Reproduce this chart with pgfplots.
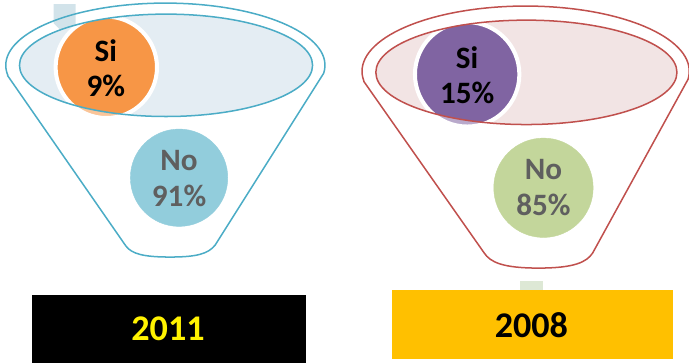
\documentclass[border=0pt]{standalone}
\usepackage{pgfplots}
\pgfplotsset{compat=1.18}
\usepackage{fontspec}
\setmainfont{Carlito}
\definecolor{lstroke}{HTML}{4BACC6}
\definecolor{lfill}{HTML}{E4EDF3}
\definecolor{rstroke}{HTML}{C0504D}
\definecolor{rfill}{HTML}{F2E4E4}
\definecolor{orangeC}{HTML}{F79646}
\definecolor{blueC}{HTML}{92CDDC}
\definecolor{purpleC}{HTML}{8064A2}
\definecolor{greenC}{HTML}{C3D69B}
\definecolor{grayT}{HTML}{5F5F5F}
\definecolor{lrect}{HTML}{D2E3EA}
\definecolor{grect}{HTML}{DDE8D5}
\definecolor{goldC}{HTML}{FFC000}
\pgfplotsset{canvas/.style={
  scale only axis, width=689pt, height=363pt,
  xmin=0, xmax=689, ymin=0, ymax=363, y dir=reverse,
  enlargelimits=false, hide axis, clip=true}}
\begin{document}
\begin{tikzpicture}
% ===== layer 1: backgrounds and circles =====
\begin{axis}[canvas]
\fill[lrect] (axis cs:56,5) -- (axis cs:78,5) -- (axis cs:78,26) -- (axis cs:68,36) -- (axis cs:56,24) -- cycle;
\draw[lstroke, line width=1.5pt, line join=round]
  (axis cs:10,76) -- (axis cs:128,246)
  .. controls (axis cs:134,254) and (axis cs:146,257) .. (axis cs:172,257)
  .. controls (axis cs:198,257) and (axis cs:210,254) .. (axis cs:217,245)
  -- (axis cs:325,74)
  arc[start angle=-7.4, end angle=189.3, x radius=159pt, y radius=62pt];
\fill[lfill] (axis cs:168,66) ellipse[x radius=146pt, y radius=51pt];
\draw[rstroke, line width=1.5pt, line join=round]
  (axis cs:365,82) -- (axis cs:485,253)
  .. controls (axis cs:491,262) and (axis cs:503,268) .. (axis cs:539,268)
  .. controls (axis cs:575,268) and (axis cs:587,262) .. (axis cs:593,253)
  -- (axis cs:688,80)
  arc[start angle=-7.1, end angle=188.8, x radius=163pt, y radius=65pt];
\fill[rfill] (axis cs:527,73) ellipse[x radius=150pt, y radius=52pt];
% Si / No circles
\addplot[white, line width=4pt, only marks, mark=*, mark size=50.5pt, mark options={fill=orangeC}] coordinates {(108.5,68)};
\addplot[blueC, only marks, mark=*, mark size=48.5pt, mark options={fill=blueC}] coordinates {(181,178)};
\addplot[white, line width=4pt, only marks, mark=*, mark size=52pt, mark options={fill=purpleC}] coordinates {(468,75)};
\addplot[greenC, only marks, mark=*, mark size=49.5pt, mark options={fill=greenC}] coordinates {(544,188)};
\end{axis}
% ===== layer 2: overlays, outlines, texts, year boxes =====
\begin{axis}[canvas]
\begin{scope}
\clip (axis cs:108.5,68) circle[radius=53pt];
\fill[white, fill opacity=0.45, even odd rule] (axis cs:0,0) rectangle (axis cs:689,363) (axis cs:168,66) ellipse[x radius=146pt, y radius=51pt];
\end{scope}
\draw[lstroke, line width=1.5pt] (axis cs:168,66) ellipse[x radius=146pt, y radius=51pt];
\begin{scope}
\clip (axis cs:468,75) circle[radius=54pt];
\fill[white, fill opacity=0.45, even odd rule] (axis cs:0,0) rectangle (axis cs:689,363) (axis cs:527,73) ellipse[x radius=150pt, y radius=52pt];
\end{scope}
\draw[rstroke, line width=1.5pt] (axis cs:527,73) ellipse[x radius=150pt, y radius=52pt];
\node[align=center, inner sep=0pt, font=\fontsize{31}{35}\selectfont\bfseries, text=black] at (axis cs:108,69) {Si\\9\%};
\node[align=center, inner sep=0pt, font=\fontsize{31}{36}\selectfont\bfseries, text=grayT] at (axis cs:181,179) {No\\91\%};
\node[align=center, inner sep=0pt, font=\fontsize{31}{35}\selectfont\bfseries, text=black] at (axis cs:468,76) {Si\\15\%};
\node[align=center, inner sep=0pt, font=\fontsize{31}{36}\selectfont\bfseries, text=grayT] at (axis cs:544,188) {No\\85\%};
\fill[black] (axis cs:34,295) rectangle (axis cs:307,363);
\node[inner sep=0pt, font=\fontsize{36}{40}\selectfont\bfseries, text=yellow] at (axis cs:170,328.5) {2011};
\fill[grect] (axis cs:521,281) rectangle (axis cs:544,291);
\fill[goldC] (axis cs:393,290) rectangle (axis cs:673,359);
\node[inner sep=0pt, font=\fontsize{36}{40}\selectfont\bfseries, text=black] at (axis cs:532,324.5) {2008};
\end{axis}
\end{tikzpicture}
\end{document}
